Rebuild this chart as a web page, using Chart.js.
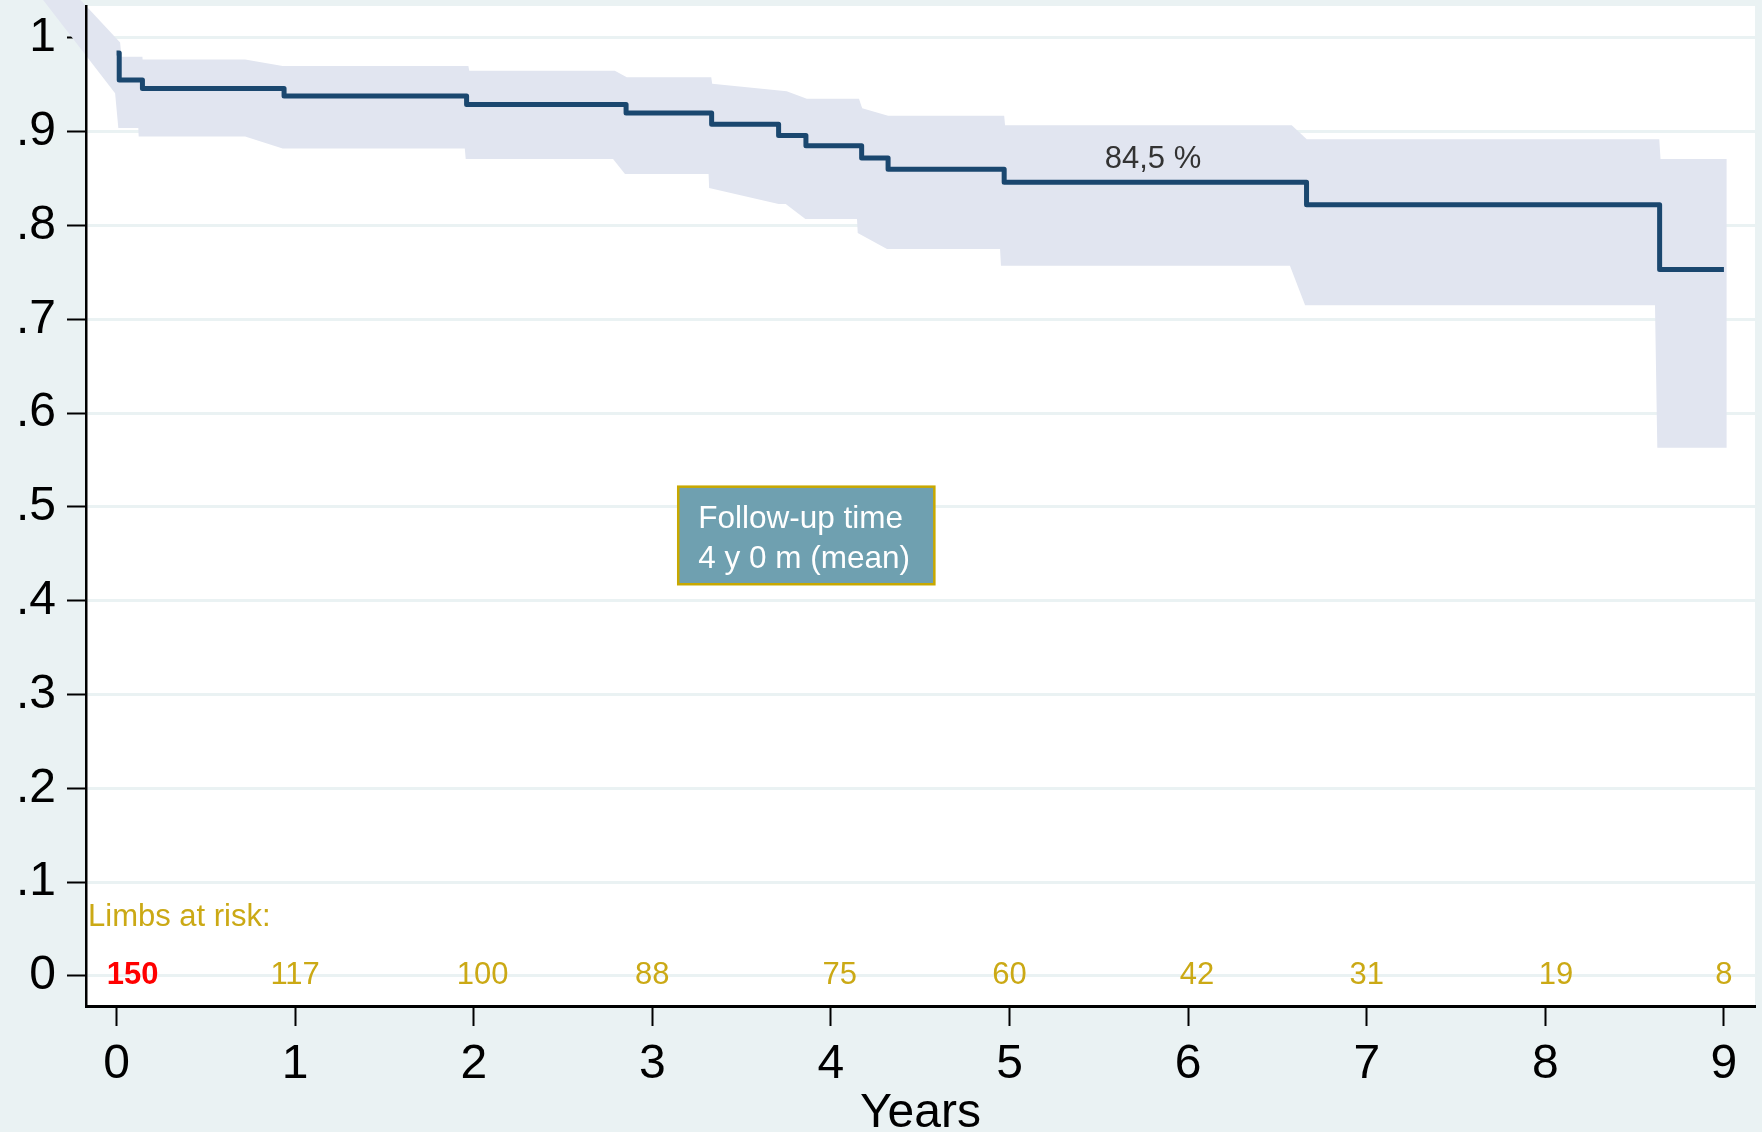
<!DOCTYPE html>
<html>
<head>
<meta charset="utf-8">
<script src="https://cdn.jsdelivr.net/npm/chart.js@4.4.1/dist/chart.umd.min.js"></script>
<style>
    html, body { margin: 0; padding: 0; background: #eaf2f3; }
    #wrap { width: 1762px; height: 1132px; position: relative; }
</style>
</head>
<body>
<div id="wrap"><canvas id="kmChart"></canvas></div>
<script>
// Kaplan-Meier estimate (step points, years / survival)
const kmTimes = [0, 0.015, 0.145, 0.938, 1.96, 2.853, 3.332, 3.707, 3.86, 4.172, 4.32, 4.97, 6.663, 8.64, 9.0]
const kmSurv  = [0.984, 0.955, 0.946, 0.938, 0.929, 0.920, 0.908, 0.896, 0.885, 0.872, 0.860, 0.846, 0.822, 0.753, 0.753]

// confidence band, upper and lower edge
const ciUpperTimes = [-0.6, 0.02, 0.028, 0.145, 0.146, 0.72, 0.93, 1.97, 1.975, 2.79, 2.857, 3.33, 3.335, 3.752, 3.865, 4.157, 4.175, 4.32, 4.97, 4.975, 6.58, 6.664, 8.638, 8.645, 9.015]
const ciUpper      = [1.122, 0.995, 0.980, 0.980, 0.977, 0.977, 0.970, 0.970, 0.965, 0.965, 0.958, 0.958, 0.951, 0.943, 0.935, 0.935, 0.925, 0.917, 0.917, 0.907, 0.907, 0.892, 0.892, 0.871, 0.871]
const ciLowerTimes = [-0.6, -0.008, 0.01, 0.122, 0.124, 0.72, 0.93, 1.95, 1.955, 2.78, 2.847, 3.315, 3.318, 3.707, 3.747, 3.857, 4.146, 4.15, 4.314, 4.947, 4.952, 6.57, 6.655, 8.614, 8.627, 9.015]
const ciLower      = [1.087, 0.941, 0.904, 0.904, 0.895, 0.895, 0.882, 0.882, 0.871, 0.871, 0.855, 0.855, 0.840, 0.823, 0.823, 0.807, 0.807, 0.792, 0.775, 0.775, 0.757, 0.757, 0.715, 0.715, 0.563, 0.563]

const yTicks = [0, 0.1, 0.2, 0.3, 0.4, 0.5, 0.6, 0.7, 0.8, 0.9, 1]
const yTickLabels = ['0', '.1', '.2', '.3', '.4', '.5', '.6', '.7', '.8', '.9', '1']
const xTicks = [0, 1, 2, 3, 4, 5, 6, 7, 8, 9]
const xTickLabels = ['0', '1', '2', '3', '4', '5', '6', '7', '8', '9']

// numbers at risk
const riskTitle = 'Limbs at risk:'
const riskTimes = [0.09, 1, 2.05, 3, 4.05, 5, 6.05, 7, 8.06, 9]
const riskCounts = [150, 117, 100, 88, 75, 60, 42, 31, 19, 8]

const estimateText = '84,5 %'
const estimateAt = [5.803, 0.861]
const followUpLines = ['Follow-up time', '4 y 0 m (mean)']
const followUpBox = [3.145, 4.579, 0.5216, 0.4176]   // left, right, top, bottom in data units

const FONT = '"Liberation Sans", Arial, Helvetica, sans-serif'
const GOLD = '#cba915'

Chart.defaults.font.family = FONT
Chart.defaults.color = '#000'

const toPoints = (xs, ys) => xs.map((t, i) => ({x: t, y: ys[i]}))

const plotBackground = {
    id: 'plotBackground',
    beforeDraw(chart) {
        const {ctx, chartArea: a} = chart
        ctx.save()
        ctx.fillStyle = '#ffffff'
        ctx.fillRect(a.left, a.top, a.right - a.left, a.bottom - a.top)
        ctx.restore()
    }
}

// fill the polygon between the two band datasets, not clipped (spills past the axis like the original)
const ciBand = {
    id: 'ciBand',
    beforeDatasetsDraw(chart) {
        const up = chart.getDatasetMeta(1).data
        const lo = chart.getDatasetMeta(2).data
        const ctx = chart.ctx
        ctx.save()
        ctx.beginPath()
        up.forEach((p, i) => i ? ctx.lineTo(p.x, p.y) : ctx.moveTo(p.x, p.y))
        for (let i = lo.length - 1; i >= 0; i--) ctx.lineTo(lo[i].x, lo[i].y)
        ctx.closePath()
        ctx.fillStyle = '#e1e5f0'
        ctx.fill()
        ctx.restore()
    }
}

const chartNotes = {
    id: 'chartNotes',
    afterDatasetsDraw(chart) {
        const {ctx, chartArea: a, scales: {x, y}} = chart
        ctx.save()

        ctx.font = '31px ' + FONT
        ctx.fillStyle = '#333333'
        ctx.textAlign = 'center'
        ctx.textBaseline = 'alphabetic'
        ctx.fillText(estimateText, x.getPixelForValue(estimateAt[0]), y.getPixelForValue(estimateAt[1]))

        // numbers at risk
        ctx.font = '31px ' + FONT
        ctx.fillStyle = GOLD
        ctx.textAlign = 'left'
        ctx.fillText(riskTitle, a.left + 2, y.getPixelForValue(0.0533))
        ctx.textAlign = 'center'
        riskTimes.forEach((t, i) => {
            ctx.font = (i === 0 ? 'bold ' : '') + '31px ' + FONT
            ctx.fillStyle = i === 0 ? '#ff0000' : GOLD
            ctx.fillText(String(riskCounts[i]), x.getPixelForValue(t), y.getPixelForValue(-0.0085))
        })

        // follow-up box
        const bl = x.getPixelForValue(followUpBox[0])
        const br = x.getPixelForValue(followUpBox[1])
        const bt = y.getPixelForValue(followUpBox[2])
        const bb = y.getPixelForValue(followUpBox[3])
        ctx.fillStyle = '#6fa0b0'
        ctx.fillRect(bl, bt, br - bl, bb - bt)
        ctx.strokeStyle = '#c8a800'
        ctx.lineWidth = 2.5
        ctx.strokeRect(bl, bt, br - bl, bb - bt)
        ctx.font = '31.5px ' + FONT
        ctx.fillStyle = '#ffffff'
        ctx.textAlign = 'left'
        followUpLines.forEach((line, i) => ctx.fillText(line, bl + 20, bt + 41 + i * 40))

        ctx.restore()
    }
}

const data = {
    datasets: [
        {
            label: 'Survival',
            data: toPoints(kmTimes, kmSurv),
            stepped: true,
            borderColor: '#1a476f',
            borderWidth: 5,
            borderJoinStyle: 'round',
            pointRadius: 0,
            fill: false
        },
        {
            label: 'Upper CI',
            data: toPoints(ciUpperTimes, ciUpper),
            showLine: false,
            pointRadius: 0,
            clip: false
        },
        {
            label: 'Lower CI',
            data: toPoints(ciLowerTimes, ciLower),
            showLine: false,
            pointRadius: 0,
            clip: false
        }
    ]
}

const options = {
    responsive: true,
    maintainAspectRatio: false,
    animation: false,
    devicePixelRatio: 1,
    layout: {padding: {top: 6, right: 7, left: 0, bottom: 0}},
    plugins: {
        legend: {display: false},
        tooltip: {enabled: false}
    },
    scales: {
        x: {
            type: 'linear',
            min: -0.171,
            max: 9.174,
            afterFit: s => {
                s.height = 126
                s.paddingLeft = 0
                s.paddingRight = 0
            },
            afterBuildTicks: s => { s.ticks = xTicks.map(v => ({value: v})) },
            grid: {drawOnChartArea: false, tickLength: 20, tickColor: '#000', tickWidth: 2},
            border: {color: '#000', width: 3, z: 1},
            ticks: {
                autoSkip: false,
                maxRotation: 0,
                padding: 10,
                color: '#000',
                font: {size: 48},
                callback: (v, i) => xTickLabels[i]
            },
            title: {
                display: true,
                text: 'Years',
                color: '#000',
                font: {size: 48, lineHeight: 0.75},
                padding: {top: 0, bottom: 0}
            }
        },
        y: {
            type: 'linear',
            min: -0.032,
            max: 1.034,
            afterFit: s => {
                s.width = 86
                s.paddingTop = 0
                s.paddingBottom = 0
            },
            afterBuildTicks: s => { s.ticks = yTicks.map(v => ({value: v})) },
            grid: {color: '#eaf2f3', lineWidth: 3, tickLength: 19, tickColor: '#000', tickWidth: 2},
            border: {color: '#000', width: 2.5, z: 1},
            ticks: {
                autoSkip: false,
                padding: 11,
                color: '#000',
                font: {size: 48},
                callback: (v, i) => yTickLabels[i]
            }
        }
    }
}

new Chart('kmChart', {type: 'line', data, options, plugins: [plotBackground, ciBand, chartNotes]})
</script>
</body>
</html>
